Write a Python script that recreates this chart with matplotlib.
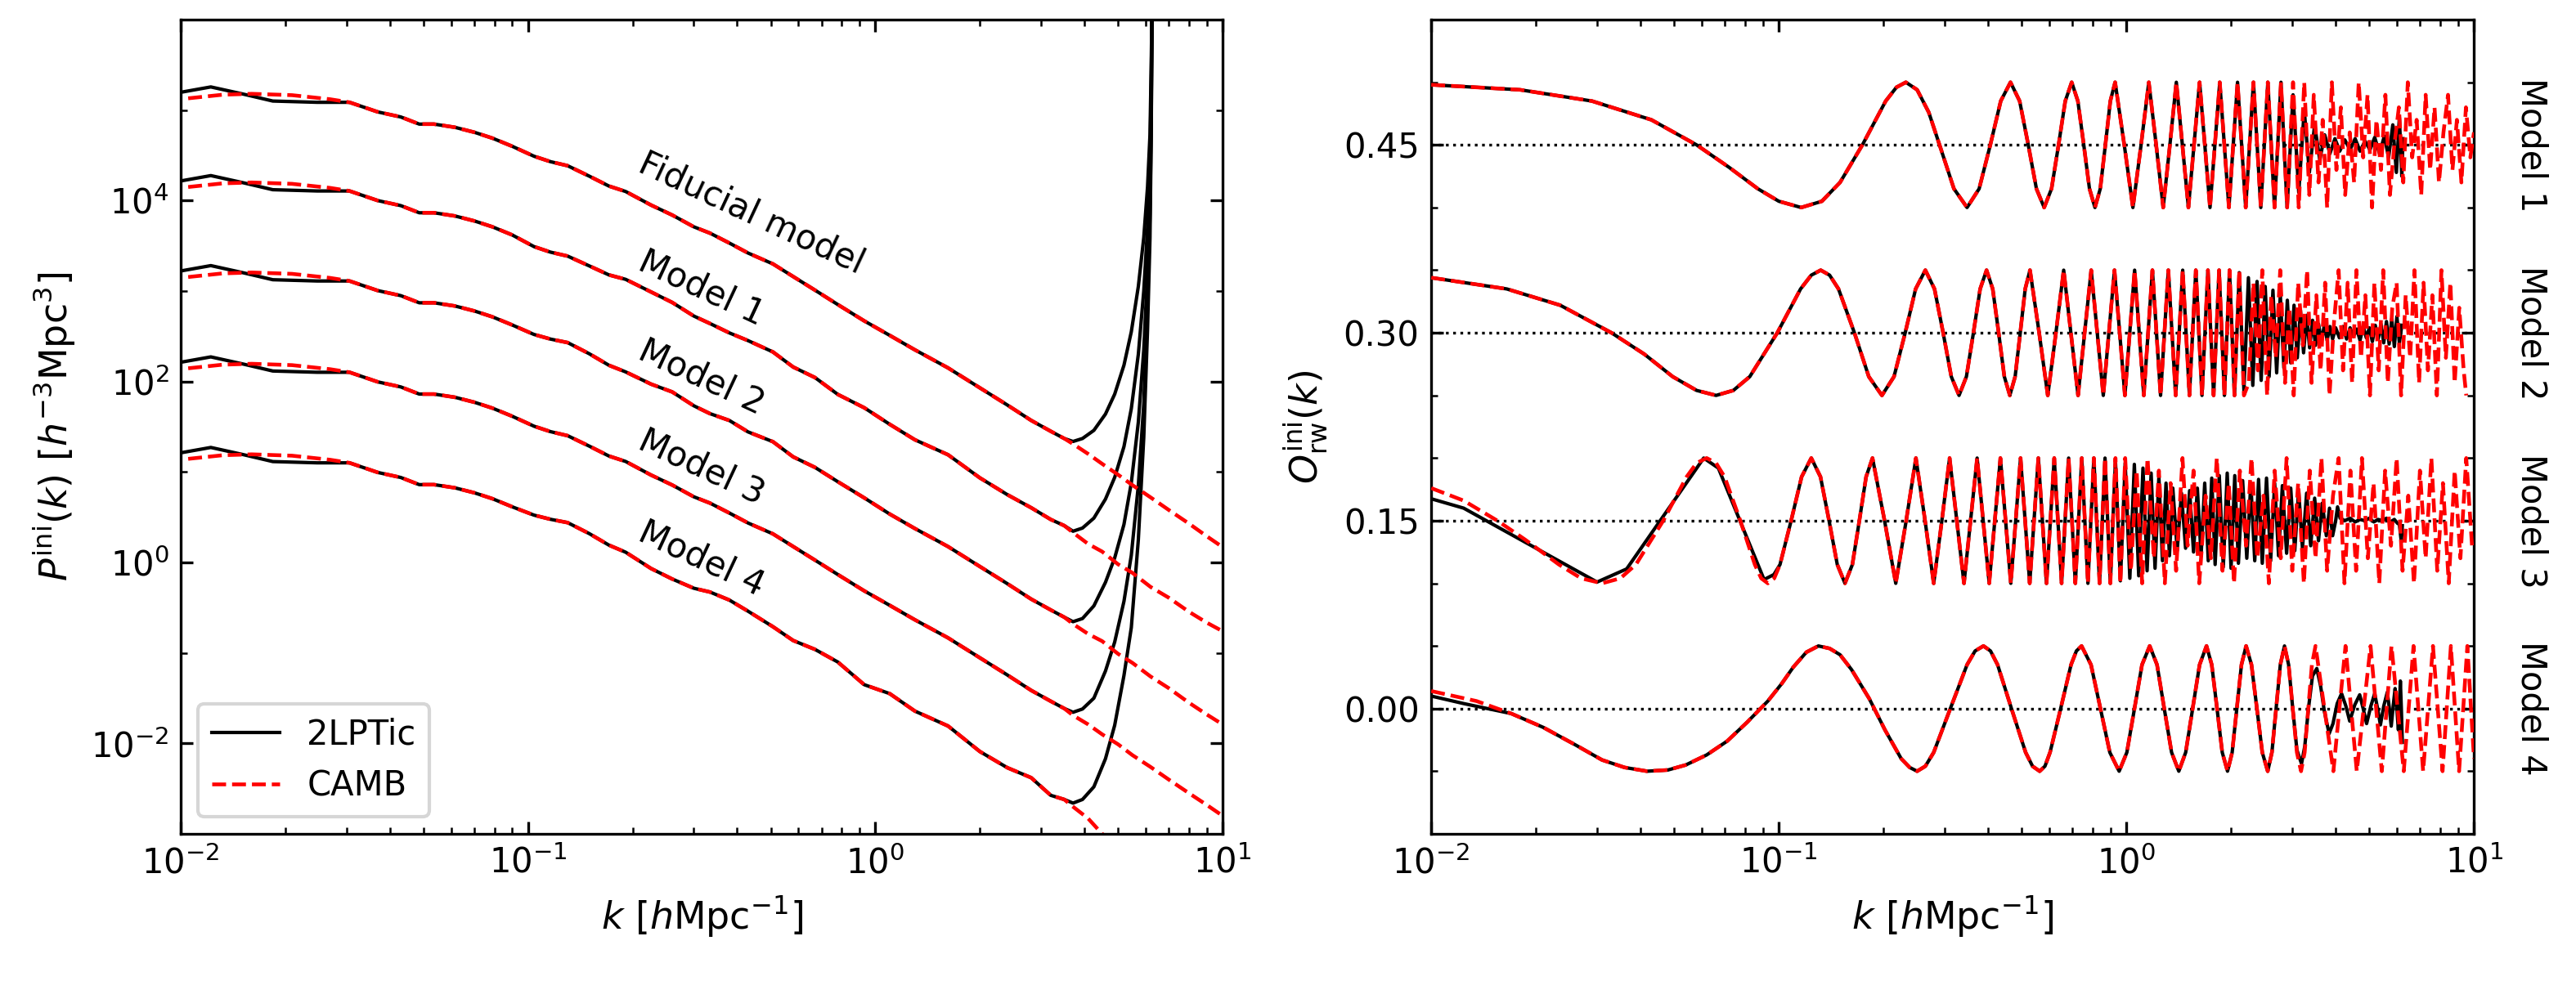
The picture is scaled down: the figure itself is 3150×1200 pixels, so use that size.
import numpy as np
import matplotlib.pyplot as plt
from matplotlib.ticker import FixedLocator, MultipleLocator, FormatStrFormatter, NullFormatter

# ---------------- left panel: log10 P(k) ----------------
# k grids (h/Mpc)
k_lpt_head = [0.0100, 0.0122, 0.0150, 0.0184, 0.0247, 0.0306]
k_camb_head = [0.0105, 0.0132, 0.0160, 0.0209, 0.0269, 0.0306]
k_mid = [0.0369, 0.0430, 0.0486, 0.0536, 0.0615, 0.0700, 0.0789, 0.0900, 0.104, 0.116,
         0.130, 0.150, 0.171, 0.191, 0.226, 0.260, 0.300, 0.334, 0.380, 0.430,
         0.507, 0.580, 0.670, 0.780, 0.929, 1.10, 1.30, 1.62, 2.00, 2.40,
         2.81, 3.20, 3.50]
k_up = [3.71, 3.95, 4.26, 4.60, 4.89, 5.20, 5.46, 5.72, 5.93, 6.08, 6.18, 6.23, 6.27]
k_tail = [3.71, 4.10, 4.50, 5.00, 5.50, 6.20, 7.00, 8.00, 9.00, 10.0]

fid_lpt_head = [5.197, 5.256, 5.180, 5.100, 5.086, 5.086]
fid_camb_head = [5.130, 5.170, 5.180, 5.165, 5.120, 5.086]
fid_mid = [4.980, 4.924, 4.845, 4.845, 4.810, 4.755, 4.690, 4.600, 4.490, 4.430,
           4.385, 4.270, 4.160, 4.100, 3.950, 3.840, 3.710, 3.640, 3.530, 3.420,
           3.300, 3.160, 3.010, 2.850, 2.670, 2.510, 2.350, 2.150, 1.930, 1.740,
           1.570, 1.450, 1.370]
fid_up = [1.337, 1.370, 1.460, 1.640, 1.860, 2.180, 2.550, 3.050, 3.590, 4.150, 4.730, 5.500, 6.300]
fid_tail = [1.310, 1.200, 1.090, 0.970, 0.855, 0.720, 0.580, 0.430, 0.290, 0.170]

m1_lpt_head = [4.217, 4.276, 4.200, 4.120, 4.106, 4.106]
m1_camb_head = [4.150, 4.190, 4.200, 4.185, 4.140, 4.106]
m1_mid = [4.000, 3.944, 3.865, 3.865, 3.830, 3.775, 3.710, 3.620, 3.491, 3.430,
          3.386, 3.278, 3.178, 3.129, 2.990, 2.874, 2.724, 2.641, 2.537, 2.452,
          2.327, 2.160, 2.044, 1.857, 1.710, 1.527, 1.356, 1.190, 0.935, 0.749,
          0.605, 0.475, 0.407]
m1_up = [0.345, 0.380, 0.490, 0.700, 0.940, 1.280, 1.700, 2.300, 3.000, 3.700, 4.450, 5.300, 6.300]
m1_tail = [0.330, 0.205, 0.120, -0.020, -0.115, -0.270, -0.390, -0.545, -0.665, -0.760]

m2_lpt_head = [3.222, 3.281, 3.205, 3.125, 3.111, 3.111]
m2_camb_head = [3.155, 3.195, 3.205, 3.190, 3.145, 3.111]
m2_mid = [3.005, 2.949, 2.870, 2.870, 2.835, 2.780, 2.715, 2.625, 2.520, 2.469,
          2.430, 2.307, 2.179, 2.106, 1.971, 1.885, 1.732, 1.645, 1.569, 1.443,
          1.335, 1.167, 1.051, 0.892, 0.714, 0.535, 0.375, 0.175, -0.045, -0.235,
          -0.405, -0.525, -0.605]
m2_up = [-0.655, -0.620, -0.480, -0.220, 0.050, 0.420, 0.880, 1.550, 2.350, 3.200, 4.100, 5.000, 6.300]
m2_tail = [-0.680, -0.790, -0.870, -1.010, -1.110, -1.260, -1.390, -1.550, -1.680, -1.790]

m3_lpt_head = [2.213, 2.272, 2.196, 2.116, 2.102, 2.102]
m3_camb_head = [2.146, 2.186, 2.196, 2.181, 2.136, 2.102]
m3_mid = [1.996, 1.940, 1.861, 1.861, 1.826, 1.771, 1.706, 1.616, 1.506, 1.446,
          1.401, 1.286, 1.176, 1.116, 0.966, 0.856, 0.726, 0.656, 0.546, 0.436,
          0.316, 0.176, 0.026, -0.134, -0.314, -0.474, -0.634, -0.834, -1.054, -1.244,
          -1.414, -1.534, -1.614]
m3_up = [-1.656, -1.620, -1.500, -1.200, -0.880, -0.430, 0.080, 0.850, 1.750, 2.850, 3.850, 4.800, 6.300]
m3_tail = [-1.690, -1.790, -1.900, -2.010, -2.130, -2.260, -2.400, -2.550, -2.680, -2.800]

m4_lpt_head = [1.212, 1.271, 1.195, 1.115, 1.101, 1.101]
m4_camb_head = [1.145, 1.185, 1.195, 1.180, 1.135, 1.101]
m4_mid = [0.995, 0.939, 0.860, 0.860, 0.825, 0.770, 0.705, 0.615, 0.523, 0.477,
          0.440, 0.319, 0.191, 0.113, -0.067, -0.183, -0.285, -0.327, -0.416, -0.539,
          -0.710, -0.863, -0.961, -1.101, -1.351, -1.450, -1.643, -1.808, -2.090, -2.269,
          -2.379, -2.574, -2.620]
m4_up = [-2.660, -2.620, -2.480, -2.170, -1.800, -1.250, -0.720, 0.250, 1.380, 2.570, 3.585, 4.700, 6.300]
m4_tail = [-2.700, -2.830, -3.000, -3.130, -3.250, -3.400, -3.540, -3.700, -3.830, -3.950]

curve_names = ['Fiducial model', 'Model 1', 'Model 2', 'Model 3', 'Model 4']

# ---------------- right panel: O_rw(k), pairs (k, O) ----------------
o1_camb = [
    (0.010, 0.498), (0.018, 0.494), (0.029, 0.485), (0.043, 0.470), (0.058, 0.450),
    (0.072, 0.432), (0.087, 0.415), (0.100, 0.405), (0.116, 0.400), (0.133, 0.405),
    (0.150, 0.420), (0.174, 0.450), (0.203, 0.485), (0.218, 0.496), (0.232, 0.500),
    (0.250, 0.494), (0.270, 0.476), (0.290, 0.450), (0.319, 0.415), (0.348, 0.400),
    (0.377, 0.415), (0.406, 0.450), (0.435, 0.485), (0.464, 0.500), (0.493, 0.485),
    (0.522, 0.450), (0.551, 0.415), (0.580, 0.400), (0.609, 0.415), (0.638, 0.450),
    (0.667, 0.485), (0.696, 0.500), (0.725, 0.485), (0.754, 0.450), (0.783, 0.415),
    (0.812, 0.400), (0.841, 0.415), (0.870, 0.450), (0.899, 0.485), (0.928, 0.500),
    (0.986, 0.450), (1.044, 0.400), (1.102, 0.450), (1.160, 0.500), (1.218, 0.450),
    (1.276, 0.400), (1.334, 0.450), (1.392, 0.500), (1.508, 0.400), (1.624, 0.500),
    (1.740, 0.400), (1.856, 0.500), (1.972, 0.400), (2.088, 0.500), (2.204, 0.400),
    (2.320, 0.500), (2.436, 0.400), (2.552, 0.500), (2.668, 0.400), (2.784, 0.500),
    (2.900, 0.400), (3.016, 0.500), (3.132, 0.400), (3.248, 0.500),
    (3.36, 0.41), (3.46, 0.49), (3.57, 0.42), (3.67, 0.47), (3.78, 0.40), (3.90, 0.50),
    (4.02, 0.43), (4.14, 0.48), (4.26, 0.41), (4.39, 0.46), (4.52, 0.42), (4.66, 0.50),
    (4.80, 0.44), (4.94, 0.49), (5.09, 0.40), (5.24, 0.47), (5.40, 0.43), (5.56, 0.49),
    (5.73, 0.41), (5.90, 0.45), (6.08, 0.48), (6.26, 0.42), (6.45, 0.50), (6.64, 0.44),
    (6.84, 0.47), (7.05, 0.41), (7.26, 0.49), (7.48, 0.43), (7.70, 0.48), (7.93, 0.42),
    (8.17, 0.46), (8.42, 0.49), (8.67, 0.43), (8.93, 0.47), (9.20, 0.42), (9.48, 0.48),
    (9.76, 0.44), (10.0, 0.46)]
o1_lpt_tail = [
    (3.016, 0.490), (3.132, 0.412), (3.248, 0.478), (3.36, 0.428), (3.48, 0.466),
    (3.60, 0.438), (3.72, 0.458), (3.85, 0.443), (3.98, 0.455), (4.11, 0.445),
    (4.25, 0.454), (4.40, 0.446), (4.55, 0.455), (4.70, 0.445), (4.86, 0.453),
    (5.02, 0.446), (5.18, 0.456), (5.35, 0.443), (5.52, 0.457), (5.68, 0.440),
    (5.84, 0.466), (5.98, 0.428), (6.10, 0.472), (6.20, 0.425), (6.25, 0.455)]

o2_camb = [
    (0.010, 0.344), (0.0165, 0.335), (0.0235, 0.322), (0.033, 0.300), (0.041, 0.283),
    (0.0495, 0.265), (0.058, 0.254), (0.066, 0.250), (0.074, 0.254), (0.0825, 0.265),
    (0.099, 0.300), (0.1155, 0.335), (0.124, 0.346), (0.132, 0.350), (0.140, 0.346),
    (0.1485, 0.335), (0.165, 0.300), (0.1815, 0.265), (0.198, 0.250), (0.2145, 0.265),
    (0.231, 0.300), (0.2475, 0.335), (0.264, 0.350), (0.2805, 0.335), (0.297, 0.300),
    (0.3135, 0.265), (0.330, 0.250), (0.3465, 0.265), (0.363, 0.300), (0.3795, 0.335),
    (0.396, 0.350), (0.4125, 0.335), (0.429, 0.300), (0.4455, 0.265), (0.462, 0.250),
    (0.4785, 0.265), (0.495, 0.300), (0.5115, 0.335), (0.528, 0.350), (0.561, 0.300),
    (0.594, 0.250), (0.627, 0.300), (0.660, 0.350), (0.726, 0.250), (0.792, 0.350),
    (0.858, 0.250), (0.924, 0.350), (0.990, 0.250), (1.056, 0.350), (1.122, 0.250),
    (1.188, 0.350), (1.254, 0.250), (1.320, 0.350), (1.386, 0.250), (1.452, 0.350),
    (1.518, 0.250), (1.584, 0.350), (1.650, 0.250), (1.716, 0.350), (1.782, 0.250),
    (1.848, 0.350), (1.914, 0.250), (1.980, 0.350), (2.046, 0.250), (2.112, 0.350),
    (2.178, 0.250),
    (2.25, 0.26), (2.32, 0.34), (2.39, 0.27), (2.46, 0.35), (2.54, 0.25), (2.61, 0.33),
    (2.69, 0.28), (2.77, 0.35), (2.86, 0.26), (2.94, 0.32), (3.03, 0.25), (3.12, 0.34),
    (3.22, 0.29), (3.31, 0.35), (3.41, 0.26), (3.52, 0.33), (3.62, 0.27), (3.73, 0.34),
    (3.84, 0.25), (3.96, 0.31), (4.08, 0.35), (4.20, 0.27), (4.33, 0.34), (4.46, 0.26),
    (4.59, 0.35), (4.73, 0.28), (4.87, 0.33), (5.02, 0.25), (5.17, 0.34), (5.32, 0.27),
    (5.48, 0.35), (5.65, 0.26), (5.82, 0.32), (5.99, 0.34), (6.17, 0.25), (6.36, 0.33),
    (6.55, 0.28), (6.74, 0.35), (6.95, 0.26), (7.16, 0.34), (7.37, 0.27), (7.59, 0.33),
    (7.82, 0.25), (8.06, 0.35), (8.30, 0.28), (8.55, 0.34), (8.80, 0.26), (9.07, 0.32),
    (9.34, 0.27), (9.50, 0.25)]
o2_lpt_tail = [
    (2.112, 0.348), (2.178, 0.254), (2.244, 0.344), (2.310, 0.258), (2.376, 0.341),
    (2.442, 0.262), (2.508, 0.337), (2.574, 0.265), (2.640, 0.334), (2.706, 0.268),
    (2.772, 0.330), (2.838, 0.272), (2.904, 0.326), (2.970, 0.276), (3.036, 0.322),
    (3.102, 0.280), (3.168, 0.318), (3.234, 0.284), (3.300, 0.314), (3.366, 0.288),
    (3.432, 0.310), (3.50, 0.290), (3.57, 0.307), (3.64, 0.293), (3.71, 0.306),
    (3.78, 0.294), (3.85, 0.305), (3.92, 0.295), (4.00, 0.304), (4.10, 0.296),
    (4.20, 0.305), (4.30, 0.295), (4.40, 0.304), (4.50, 0.297), (4.60, 0.303),
    (4.70, 0.294), (4.80, 0.305), (4.90, 0.296), (5.00, 0.304), (5.10, 0.293),
    (5.20, 0.306), (5.30, 0.295), (5.40, 0.307), (5.50, 0.292), (5.60, 0.309),
    (5.70, 0.291), (5.80, 0.311), (5.90, 0.289), (6.00, 0.313), (6.10, 0.292),
    (6.20, 0.306)]

o3_camb = [
    (0.010, 0.176), (0.0124, 0.166), (0.0155, 0.150), (0.0186, 0.135), (0.0233, 0.115),
    (0.027, 0.104), (0.031, 0.100), (0.035, 0.104), (0.0388, 0.115), (0.0465, 0.150),
    (0.0543, 0.185), (0.058, 0.196), (0.062, 0.200), (0.066, 0.196), (0.0698, 0.185),
    (0.0775, 0.150), (0.0853, 0.115), (0.089, 0.104), (0.093, 0.100), (0.097, 0.104),
    (0.1008, 0.115), (0.1085, 0.150), (0.1163, 0.185), (0.124, 0.200), (0.1318, 0.185),
    (0.1395, 0.150), (0.1473, 0.115), (0.155, 0.100), (0.1628, 0.115), (0.1705, 0.150),
    (0.1783, 0.185), (0.186, 0.200), (0.2015, 0.150), (0.217, 0.100), (0.2325, 0.150),
    (0.248, 0.200), (0.2635, 0.150), (0.279, 0.100), (0.2945, 0.150), (0.310, 0.200),
    (0.341, 0.100), (0.372, 0.200), (0.403, 0.100), (0.434, 0.200), (0.465, 0.100),
    (0.496, 0.200), (0.527, 0.100), (0.558, 0.200), (0.589, 0.100), (0.620, 0.200),
    (0.651, 0.100), (0.682, 0.200), (0.713, 0.100), (0.744, 0.200), (0.775, 0.100),
    (0.806, 0.200), (0.837, 0.100), (0.868, 0.200), (0.899, 0.100), (0.930, 0.200),
    (0.961, 0.100), (0.992, 0.200),
    (1.03, 0.11), (1.07, 0.19), (1.11, 0.10), (1.15, 0.20), (1.20, 0.12), (1.24, 0.19),
    (1.29, 0.10), (1.34, 0.18), (1.39, 0.11), (1.45, 0.20), (1.50, 0.13), (1.56, 0.19),
    (1.62, 0.10), (1.69, 0.17), (1.75, 0.12), (1.82, 0.20), (1.89, 0.11), (1.97, 0.18),
    (2.04, 0.10), (2.12, 0.19), (2.21, 0.13), (2.29, 0.20), (2.38, 0.12), (2.48, 0.17),
    (2.57, 0.10), (2.67, 0.19), (2.78, 0.12), (2.89, 0.20), (3.00, 0.11), (3.12, 0.18),
    (3.24, 0.10), (3.37, 0.19), (3.50, 0.12), (3.64, 0.20), (3.78, 0.11), (3.93, 0.17),
    (4.08, 0.20), (4.24, 0.10), (4.41, 0.19), (4.58, 0.11), (4.76, 0.20), (4.95, 0.12),
    (5.14, 0.18), (5.34, 0.10), (5.55, 0.19), (5.77, 0.13), (5.99, 0.20), (6.23, 0.11),
    (6.47, 0.17), (6.72, 0.10), (6.99, 0.19), (7.26, 0.12), (7.54, 0.20), (7.84, 0.11),
    (8.14, 0.18), (8.46, 0.10), (8.80, 0.19), (9.14, 0.12), (9.50, 0.20), (9.87, 0.13)]
o3_lpt_head = [
    (0.010, 0.1675), (0.0124, 0.160), (0.030, 0.101), (0.0365, 0.1115), (0.0608, 0.200),
    (0.067, 0.192), (0.0907, 0.103), (0.0968, 0.107)]
o3_lpt_tail = [
    (0.899, 0.100), (0.930, 0.198), (0.961, 0.102), (0.992, 0.196), (1.023, 0.104),
    (1.054, 0.195), (1.085, 0.106), (1.116, 0.192), (1.147, 0.110), (1.178, 0.188),
    (1.209, 0.112), (1.24, 0.185), (1.27, 0.118), (1.30, 0.180), (1.33, 0.122),
    (1.36, 0.176), (1.40, 0.126), (1.44, 0.172), (1.48, 0.128), (1.52, 0.174),
    (1.56, 0.125), (1.60, 0.176), (1.64, 0.122), (1.68, 0.180), (1.72, 0.118),
    (1.76, 0.184), (1.80, 0.115), (1.85, 0.186), (1.90, 0.113), (1.95, 0.188),
    (2.00, 0.112), (2.05, 0.186), (2.10, 0.116), (2.16, 0.182), (2.22, 0.120),
    (2.28, 0.180), (2.34, 0.118), (2.40, 0.183), (2.46, 0.116), (2.53, 0.184),
    (2.60, 0.118), (2.67, 0.180), (2.74, 0.122), (2.81, 0.178), (2.89, 0.124),
    (2.97, 0.176), (3.05, 0.126), (3.13, 0.174), (3.21, 0.128), (3.30, 0.172),
    (3.39, 0.130), (3.48, 0.168), (3.57, 0.134), (3.66, 0.164), (3.76, 0.138),
    (3.84, 0.160), (3.92, 0.138), (4.00, 0.150), (4.05, 0.161), (4.12, 0.152),
    (4.25, 0.150), (4.40, 0.152), (4.55, 0.149), (4.70, 0.151), (4.85, 0.150),
    (5.00, 0.152), (5.15, 0.149), (5.30, 0.151), (5.45, 0.150), (5.60, 0.152),
    (5.75, 0.149), (5.90, 0.151), (6.02, 0.148), (6.10, 0.147), (6.18, 0.133),
    (6.22, 0.146)]

o4_camb = [
    (0.010, 0.014), (0.0135, 0.006), (0.017, -0.004), (0.021, -0.015), (0.026, -0.029),
    (0.031, -0.041), (0.036, -0.047), (0.0418, -0.050), (0.048, -0.049), (0.054, -0.045),
    (0.062, -0.037), (0.071, -0.026), (0.081, -0.011), (0.093, 0.006), (0.102, 0.020),
    (0.110, 0.033), (0.120, 0.045), (0.130, 0.050), (0.140, 0.048), (0.150, 0.043),
    (0.162, 0.031), (0.182, 0.008), (0.202, -0.017), (0.225, -0.040), (0.238, -0.047),
    (0.250, -0.050), (0.264, -0.046), (0.279, -0.035), (0.3115, 0.000), (0.348, 0.035),
    (0.367, 0.046), (0.388, 0.050), (0.4065, 0.046), (0.426, 0.035), (0.467, 0.000),
    (0.513, -0.035), (0.537, -0.046), (0.563, -0.050), (0.583, -0.046), (0.603, -0.035),
    (0.647, 0.000), (0.693, 0.035), (0.718, 0.046), (0.743, 0.050), (0.791, 0.035),
    (0.842, 0.000), (0.896, -0.035), (0.953, -0.050), (1.003, -0.035), (1.055, 0.000),
    (1.109, 0.035), (1.167, 0.050), (1.225, 0.035), (1.285, 0.000), (1.349, -0.035),
    (1.415, -0.050), (1.481, -0.035), (1.551, 0.000), (1.624, 0.035), (1.700, 0.050),
    (1.760, 0.035), (1.823, 0.000), (1.887, -0.035), (1.954, -0.050), (2.015, -0.035),
    (2.078, 0.000), (2.143, 0.035), (2.210, 0.050), (2.290, 0.035), (2.374, 0.000),
    (2.460, -0.035), (2.550, -0.050), (2.622, -0.035), (2.696, 0.000), (2.772, 0.035),
    (2.850, 0.050), (2.929, 0.035), (3.010, 0.000), (3.094, -0.035), (3.180, -0.050),
    (3.257, -0.035), (3.336, 0.000), (3.417, 0.035), (3.500, 0.050), (3.713, 0.000),
    (3.94, -0.050), (4.10, 0.000), (4.27, 0.050), (4.43, 0.000), (4.60, -0.050),
    (4.815, 0.000), (5.04, 0.050), (5.23, 0.000), (5.43, -0.050), (5.607, 0.000),
    (5.79, 0.050), (6.03, 0.000), (6.28, -0.050), (6.487, 0.000), (6.70, 0.050),
    (6.916, 0.000), (7.14, -0.050), (7.376, 0.000), (7.62, 0.050), (7.866, 0.000),
    (8.12, -0.050), (8.347, 0.000), (8.58, 0.050), (8.817, 0.000), (9.06, -0.050),
    (9.312, 0.000), (9.57, 0.050), (9.78, 0.005), (10.0, -0.040)]
o4_lpt_head = [(0.010, 0.010), (0.0124, 0.004)]
o4_lpt_tail = [
    (3.094, -0.033), (3.19, -0.044), (3.26, -0.030), (3.34, 0.000), (3.43, 0.026),
    (3.53, 0.032), (3.62, 0.018), (3.71, -0.002), (3.83, -0.020), (3.93, -0.012),
    (4.04, 0.004), (4.16, 0.012), (4.28, 0.002), (4.39, -0.010), (4.54, 0.003),
    (4.69, 0.011), (4.80, 0.000), (4.91, -0.012), (5.05, 0.002), (5.18, 0.012),
    (5.28, 0.000), (5.38, -0.013), (5.50, 0.002), (5.63, 0.013), (5.71, 0.000),
    (5.78, -0.014), (5.86, 0.003), (5.93, 0.016), (6.00, 0.000), (6.06, -0.017),
    (6.10, 0.000), (6.14, 0.022), (6.18, 0.000), (6.22, -0.027)]

offsets = [0.45, 0.30, 0.15, 0.00]
model_names = ['Model 1', 'Model 2', 'Model 3', 'Model 4']


def xy(pairs):
    k, o = zip(*pairs)
    return np.array(k), np.array(o)


def between(pairs, kmin, kmax):
    return [p for p in pairs if kmin <= p[0] <= kmax]


# 2LPTic curves of the right panel: CAMB values where both agree, own values elsewhere
o1_lpt = between(o1_camb, 0.0, 2.95) + o1_lpt_tail
o2_lpt = between(o2_camb, 0.0, 2.05) + o2_lpt_tail
o3_lpt = o3_lpt_head + between(o3_camb, 0.1, 0.87) + o3_lpt_tail
o4_lpt = o4_lpt_head + between(o4_camb, 0.016, 3.02) + o4_lpt_tail

plt.rcParams['font.size'] = 10
plt.rcParams['axes.labelsize'] = 11
plt.rcParams['mathtext.default'] = 'it'

fig = plt.figure(figsize=(10.5, 4), dpi=300)
ax1 = fig.add_axes([0.0702, 0.15, 0.4044, 0.83])
ax2 = fig.add_axes([0.5556, 0.15, 0.4048, 0.83])

# ---------------- left panel ----------------
lpt_sets = [(fid_lpt_head, fid_mid, fid_up), (m1_lpt_head, m1_mid, m1_up),
            (m2_lpt_head, m2_mid, m2_up), (m3_lpt_head, m3_mid, m3_up),
            (m4_lpt_head, m4_mid, m4_up)]
camb_sets = [(fid_camb_head, fid_mid, fid_tail), (m1_camb_head, m1_mid, m1_tail),
             (m2_camb_head, m2_mid, m2_tail), (m3_camb_head, m3_mid, m3_tail),
             (m4_camb_head, m4_mid, m4_tail)]

k_lpt = np.array(k_lpt_head + k_mid + k_up)
k_camb = np.array(k_camb_head + k_mid + k_tail)
for i, (h, m, u) in enumerate(lpt_sets):
    ax1.plot(k_lpt, 10.0 ** np.array(h + m + u), 'k-', lw=1.0,
             label='2LPTic' if i == 0 else None)
for i, (h, m, t) in enumerate(camb_sets):
    ax1.plot(k_camb, 10.0 ** np.array(h + m + t), 'r--', lw=1.1,
             label='CAMB' if i == 0 else None)

ax1.text(0.44, 10 ** 3.86, curve_names[0], rotation=-25, ha='center', va='center')
for name, ly in zip(curve_names[1:], [3.03, 2.05, 1.05, 0.04]):
    ax1.text(0.316, 10 ** ly, name, rotation=-25, ha='center', va='center')

ax1.set_xscale('log')
ax1.set_yscale('log')
ax1.set_xlim(1e-2, 1e1)
ax1.set_ylim(1e-3, 1e6)
ax1.yaxis.set_major_locator(FixedLocator([1e-2, 1e0, 1e2, 1e4]))
ax1.yaxis.set_minor_locator(FixedLocator([1e-3, 1e-1, 1e1, 1e3, 1e5]))
ax1.yaxis.set_minor_formatter(NullFormatter())
ax1.set_xlabel(r'$k$ $[h\mathrm{Mpc}^{-1}]$')
ax1.set_ylabel(r'$P^{\mathrm{ini}}(k)$ $[h^{-3}\mathrm{Mpc}^3]$')
ax1.legend(loc='lower left')

# ---------------- right panel ----------------
for off in offsets:
    ax2.axhline(off, color='k', ls=':', lw=0.8, zorder=1)
for pairs in [o1_lpt, o2_lpt, o3_lpt, o4_lpt]:
    k, o = xy(pairs)
    ax2.plot(k, o, 'k-', lw=1.0, zorder=2)
for pairs in [o1_camb, o2_camb, o3_camb, o4_camb]:
    k, o = xy(pairs)
    ax2.plot(k, o, 'r--', lw=1.1, zorder=3)

for name, off in zip(model_names, offsets):
    ax2.text(1.055, off, name, transform=ax2.get_yaxis_transform(),
             rotation=-90, ha='center', va='center')

ax2.set_xscale('log')
ax2.set_xlim(1e-2, 1e1)
ax2.set_ylim(-0.1, 0.55)
ax2.yaxis.set_major_locator(MultipleLocator(0.15))
ax2.yaxis.set_minor_locator(MultipleLocator(0.05))
ax2.yaxis.set_major_formatter(FormatStrFormatter('%.2f'))
ax2.set_xlabel(r'$k$ $[h\mathrm{Mpc}^{-1}]$')
ax2.set_ylabel(r'$O^{\mathrm{ini}}_{\mathrm{rw}}(k)$')

for ax in (ax1, ax2):
    ax.tick_params(which='both', direction='in', top=True, right=True)

fig.savefig('out.png', dpi=300)
